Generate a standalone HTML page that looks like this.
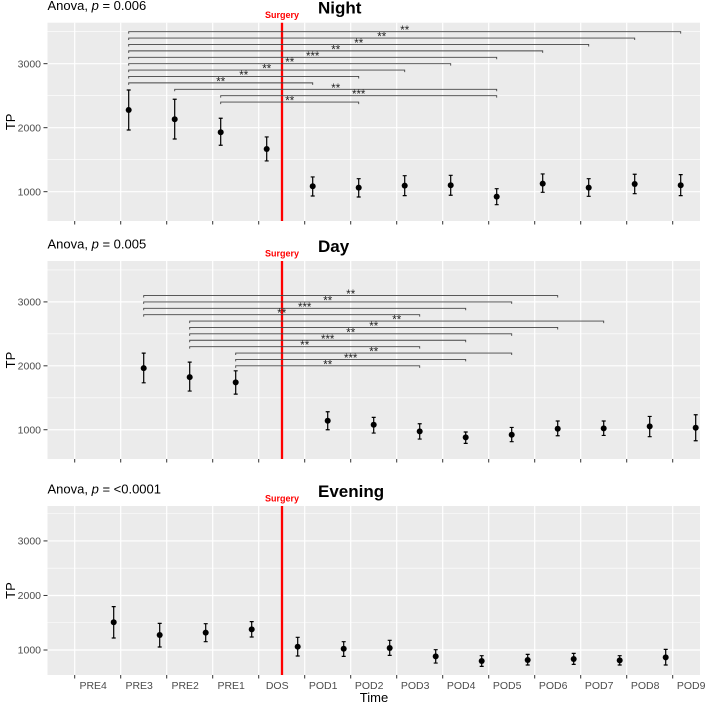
<!DOCTYPE html>
<html><head><meta charset="utf-8"><style>
html,body{margin:0;padding:0;background:#fff}
svg{display:block;font-family:"Liberation Sans",Arial,sans-serif}
</style></head><body>
<svg id="chart" width="706" height="705" viewBox="0 0 706 705" xmlns="http://www.w3.org/2000/svg"></svg>
<script>
const categories = ["PRE4","PRE3","PRE2","PRE1","DOS","POD1","POD2","POD3","POD4","POD5","POD6","POD7","POD8","POD9"];
const yTicks = [1000,2000,3000];
const yMinor = [500,1500,2500,3500];

// Night
const nightCats = [1,2,3,4,5,6,7,8,9,10,11,12,13];
const nightMean = [2277,2131,1928,1667,1084,1063,1094,1100,922,1125,1063,1120,1100];
const nightLow  = [1964,1823,1725,1480,933,917,938,944,797,990,928,969,938];
const nightHigh = [2589,2444,2147,1855,1230,1203,1250,1256,1047,1277,1203,1272,1266];
const nightBrFrom = [0,0,0,0,0,0,0,0,0,1,2,2];
const nightBrTo   = [12,11,10,9,8,7,6,5,4,8,8,5];
const nightBrY    = [3500,3400,3300,3200,3100,3000,2900,2800,2700,2600,2500,2400];
const nightBrLab  = ["**","**","**","**","***","**","**","**","**","**","***","**"];

// Day
const dayCats = [1,2,3,5,6,7,8,9,10,11,12,13];
const dayMean = [1964,1823,1740,1141,1078,974,880,922,1016,1021,1052,1031];
const dayLow  = [1734,1605,1557,1000,948,854,786,813,906,911,891,828];
const dayHigh = [2198,2058,1922,1281,1193,1094,964,1036,1136,1136,1208,1234];
const dayBrFrom = [0,0,0,0,1,1,1,1,1,2,2,2];
const dayBrTo   = [8,7,6,5,9,8,7,6,5,7,6,5];
const dayBrY    = [3100,3000,2900,2800,2700,2600,2500,2400,2300,2200,2100,2000];
const dayBrLab  = ["**","**","***","**","**","**","**","***","**","**","***","**"];

// Evening
const eveCats = [0,1,2,3,4,5,6,7,8,9,10,11,12];
const eveMean = [1508,1275,1318,1379,1061,1024,1037,884,798,817,835,811,866];
const eveLow  = [1220,1055,1153,1239,890,884,902,761,700,725,737,725,725];
const eveHigh = [1795,1489,1483,1520,1233,1153,1178,1006,896,920,939,896,1012];
const eveBrFrom = [], eveBrTo = [], eveBrY = [], eveBrLab = [];

const NS="http://www.w3.org/2000/svg";
const svg=document.getElementById('chart');
function mk(tag,attrs,parent){const e=document.createElementNS(NS,tag);for(const k in attrs)e.setAttribute(k,attrs[k]);(parent||svg).appendChild(e);return e;}

const L=47.5,R=700,DMIN=542,DMAX=3640;
function tickX(i){return 74.7+46*i;}

const panels=[
 {name:"night",title:"Night",anova:"0.006",top:22.7,bot:221,off:8,cats:nightCats,mean:nightMean,low:nightLow,high:nightHigh,bf:nightBrFrom,bt:nightBrTo,by:nightBrY,bl:nightBrLab,labels:false},
 {name:"day",title:"Day",anova:"0.005",top:261,bot:459,off:23,cats:dayCats,mean:dayMean,low:dayLow,high:dayHigh,bf:dayBrFrom,bt:dayBrTo,by:dayBrY,bl:dayBrLab,labels:false},
 {name:"evening",title:"Evening",anova:"<0.0001",top:506,bot:675,off:39,cats:eveCats,mean:eveMean,low:eveLow,high:eveHigh,bf:eveBrFrom,bt:eveBrTo,by:eveBrY,bl:eveBrLab,labels:true}
];

panels.forEach(p=>{
  const g=mk('g',{});
  
  
  const y=v=>p.bot-(v-DMIN)/(DMAX-DMIN)*(p.bot-p.top);
  const x=c=>tickX(c)+p.off;
  const bg=mk('rect',{x:L,y:p.top,width:R-L,height:p.bot-p.top,fill:'#ebebeb'},g);
  
  
  yMinor.forEach(v=>{if(y(v)>p.top)mk('line',{x1:L,x2:R,y1:y(v),y2:y(v),stroke:'#fff','stroke-width':0.6},g);});
  yTicks.forEach(v=>{mk('line',{x1:L,x2:R,y1:y(v),y2:y(v),stroke:'#fff','stroke-width':1.2},g);});
  categories.forEach((c,i)=>{mk('line',{x1:tickX(i),x2:tickX(i),y1:p.top,y2:p.bot,stroke:'#fff','stroke-width':1.2},g);
    mk('line',{x1:tickX(i),x2:tickX(i),y1:p.bot,y2:p.bot+3.5,stroke:'#333','stroke-width':1},g);
    if(p.labels){const t=mk('text',{x:tickX(i)+18.5,y:689,'font-size':10.5,fill:'#4d4d4d','text-anchor':'middle'},g);t.textContent=c;
      
      }
  });
  yTicks.forEach(v=>{mk('line',{x1:L-4,x2:L,y1:y(v),y2:y(v),stroke:'#333','stroke-width':1},g);
    const t=mk('text',{x:41,y:y(v)+3.6,'font-size':10.5,fill:'#4d4d4d','text-anchor':'end'},g);t.textContent=v;
    
    });
  const sx=282;
  const sl=mk('line',{x1:sx,x2:sx,y1:p.top,y2:p.bot,stroke:'#ff0000','stroke-width':2.3},g);
  
  
  const st=mk('text',{x:sx,y:p.top-4.5,'font-size':9,'font-weight':'bold',fill:'#ff0000','text-anchor':'middle'},g);st.textContent='Surgery';
  
  
  p.by.forEach((v,i)=>{
    const x1=x(p.cats[p.bf[i]]),x2=x(p.cats[p.bt[i]]),yy=y(v);
    const b=mk('path',{d:`M${x1},${yy+2}V${yy}H${x2}V${yy+2}`,fill:'none',stroke:'#444','stroke-width':0.9},g);
    
    
    const t=mk('text',{x:(x1+x2)/2,y:yy+2.5,'font-size':11.5,fill:'#222','text-anchor':'middle'},g);t.textContent=p.bl[i];
    
    
  });
  p.mean.forEach((m,i)=>{
    const cx=x(p.cats[i]);
    const e=mk('path',{d:`M${cx-2},${y(p.high[i])}H${cx+2}M${cx},${y(p.high[i])}V${y(p.low[i])}M${cx-2},${y(p.low[i])}H${cx+2}`,stroke:'#000','stroke-width':1.2,fill:'none'},g);
    
    
    const c=mk('circle',{cx:cx,cy:y(m),r:3,fill:'#000'},g);
    
    
  });
  const tt=mk('text',{x:318,y:p.top-9,'font-size':17,'font-weight':'bold',fill:'#000'},g);tt.textContent=p.title;
  
  
  const an=mk('text',{x:L,y:p.top-12.5,'font-size':13,fill:'#000'},g);
  an.innerHTML='Anova, <tspan font-style="italic">p</tspan> = '+p.anova;
  
  
  const ty=(p.top+p.bot)/2;
  const yl=mk('text',{x:15,y:ty,'font-size':13,fill:'#000','text-anchor':'middle',transform:`rotate(-90 15 ${ty})`},g);yl.textContent='TP';
  
  
});
const xt=mk('text',{x:374,y:702,'font-size':13,fill:'#000','text-anchor':'middle'});xt.textContent='Time';


</script>
</body></html>
